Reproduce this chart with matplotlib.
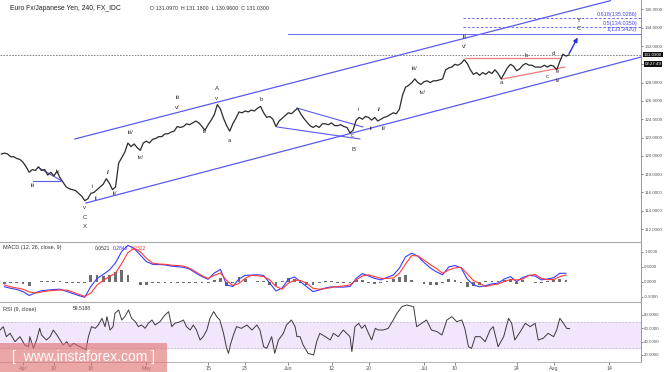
import matplotlib.pyplot as plt
import numpy as np
from matplotlib.patches import Rectangle

W, H = 665, 372
plt.rcParams['font.family'] = ['Liberation Sans', 'DejaVu Sans']

# 收盘价, 每半个交易日一个点, 交易日序号 0 = 4月3日
price_start_day = -3.5
price_step = 0.5
price_close = [
    120.2, 120.3, 120.2, 119.9, 119.9, 119.7, 119.6, 119.3, 118.8, 118.2,
    118.5, 118.4, 118.8, 118.4, 118.5, 117.9, 118.2, 117.8, 118.3, 117.6,
    117.1, 116.6, 116.4, 116.3, 116.2, 115.9, 115.6, 115.1, 115.3, 115.9,
    116.0, 116.3, 116.6, 116.9, 117.5, 117.0, 116.3, 116.6, 119.2, 119.8,
    120.4, 121.4, 121.0, 121.3, 120.9, 120.6, 121.4, 121.6, 121.4, 121.8,
    121.9, 122.1, 122.1, 122.4, 122.4, 122.6, 122.7, 123.2, 123.1, 123.2,
    123.5, 123.4, 123.6, 123.8, 123.6, 123.2, 122.8, 123.4, 123.9, 124.5,
    125.6, 125.1, 124.1, 123.3, 122.7, 123.5, 124.1, 124.8, 124.7, 124.9,
    124.8, 125.0, 124.9, 125.2, 125.4, 124.7, 124.2, 124.3, 124.0, 123.2,
    123.8, 124.1, 124.4, 124.7, 124.6, 124.9, 125.2, 124.6, 124.1, 123.7,
    123.3, 123.1, 123.3, 123.1, 123.5, 123.5, 123.4, 123.6, 123.3, 123.3,
    123.4, 123.2, 123.1, 122.5, 122.8, 123.9, 124.2, 124.0, 124.3, 124.2,
    123.9, 124.2, 123.8, 124.0, 124.2, 124.3, 124.5, 124.7, 124.6, 125.1,
    126.6, 127.5, 127.7, 128.0, 128.4, 128.0, 127.8, 128.1, 128.2, 128.0,
    128.2, 128.2, 128.3, 128.4, 129.4, 129.6, 129.7, 130.0, 129.9, 130.1,
    130.5, 130.1, 129.4, 128.9, 129.1, 128.8, 129.1, 128.9, 129.2, 129.0,
    129.4, 129.0, 128.4, 129.0, 129.6, 130.0, 129.8, 129.3, 129.5, 129.9,
    130.1, 129.9, 129.9, 129.7, 129.7, 129.7, 129.9, 129.7, 129.9, 129.8,
    129.4, 130.3, 131.1, 130.9, 131.03,
]
last_price = 131.03

# MACD (12, 26, 9), 每个交易日一个点
macd_start_day = -3
macd_line = [
    -0.16, -0.21, -0.25, -0.32, -0.45, -0.36, -0.29, -0.27, -0.25, -0.24,
    -0.31, -0.38, -0.45, -0.51, -0.15, 0.12, 0.25, 0.40, 0.64, 1.02,
    1.22, 1.12, 0.90, 0.68, 0.59, 0.58, 0.57, 0.53, 0.51, 0.49,
    0.43, 0.30, 0.18, 0.09, 0.30, 0.42, -0.10, -0.15, 0.10, 0.22,
    0.23, 0.24, 0.22, -0.04, -0.30, -0.20, 0.09, 0.17, 0.00, -0.16,
    -0.32, -0.27, -0.20, -0.16, -0.17, -0.17, -0.15, 0.12, 0.28, 0.20,
    0.12, 0.07, 0.15, 0.23, 0.46, 0.84, 0.96, 0.86, 0.65, 0.47,
    0.34, 0.24, 0.50, 0.55, 0.47, 0.10, -0.10, -0.16, -0.12, -0.06,
    -0.04, 0.10, 0.18, 0.01, 0.15, 0.22, 0.20, 0.07, 0.10, 0.14,
    0.29, 0.29,
]
signal_line = [
    -0.10, -0.16, -0.20, -0.24, -0.33, -0.37, -0.33, -0.30, -0.28, -0.27,
    -0.27, -0.33, -0.41, -0.48, -0.37, -0.10, 0.05, 0.18, 0.30, 0.62,
    0.98, 1.12, 1.01, 0.79, 0.63, 0.60, 0.59, 0.56, 0.55, 0.53,
    0.46, 0.34, 0.21, 0.12, 0.22, 0.30, 0.05, -0.12, -0.05, 0.12,
    0.22, 0.21, 0.18, 0.07, -0.15, -0.24, -0.04, 0.06, 0.05, -0.05,
    -0.21, -0.24, -0.22, -0.18, -0.15, -0.13, -0.10, 0.07, 0.20, 0.24,
    0.18, 0.12, 0.12, 0.13, 0.29, 0.60, 0.88, 0.87, 0.73, 0.58,
    0.45, 0.29, 0.40, 0.47, 0.49, 0.27, 0.05, -0.05, -0.15, -0.10,
    -0.07, 0.02, 0.08, 0.07, 0.10, 0.22, 0.25, 0.12, 0.08, 0.08,
    0.18, 0.23,
]

# RSI (9)
rsi_days = [
    -3.7, -3.2, -2.7, -2.1, -1.3, -0.5, 0.3, 0.9, 1.1, 1.7,
    2.2, 2.7, 3.0, 3.8, 4.4, 4.9, 5.5, 6.0, 6.5, 7.1,
    7.6, 8.2, 8.7, 9.2, 9.8, 10.2, 10.6, 11.1, 11.7, 12.2,
    12.8, 13.3, 13.6, 14.1, 14.6, 14.9, 15.5, 16.0, 16.5, 17.1,
    17.6, 18.2, 18.7, 19.2, 19.8, 20.3, 20.9, 21.4, 22.2, 23.0,
    23.6, 24.1, 24.6, 25.5, 26.0, 26.5, 27.1, 27.6, 28.1, 28.7,
    29.2, 29.8, 30.3, 30.9, 31.4, 31.9, 32.5, 33.0, 33.3, 33.6,
    34.1, 34.6, 35.4, 36.3, 37.1, 37.9, 38.4, 39.0, 39.5, 40.3,
    40.8, 41.4, 42.2, 42.7, 43.5, 44.1, 44.4, 44.9, 45.4, 46.2,
    47.1, 47.6, 48.1, 49.0, 49.8, 50.3, 51.1, 51.9, 53.0, 53.3,
    53.8, 54.4, 54.9, 55.4, 56.0, 56.5, 57.1, 57.6, 58.4, 59.2,
    60.0, 60.6, 61.4, 62.2, 63.3, 63.8, 64.6, 65.4, 66.2, 67.1,
    67.9, 68.7, 69.5, 70.3, 71.1, 71.6, 72.2, 72.7, 73.3, 74.1,
    74.9, 75.7, 76.2, 77.0, 77.9, 78.7, 79.2, 79.7, 80.6, 81.4,
    82.2, 83.0, 83.5, 84.3, 85.1, 86.0, 86.5, 87.0, 87.6, 88.1,
    88.6,
]
rsi_values = [
    57.5, 62.5, 47.5, 52.5, 40.0, 47.5, 35.0, 32.5, 47.5, 30.0,
    42.5, 60.0, 50.0, 42.5, 47.5, 57.5, 50.0, 42.5, 35.0, 40.0,
    32.5, 37.5, 35.0, 32.5, 30.0, 27.5, 47.5, 62.5, 60.0, 65.0,
    75.0, 62.5, 77.5, 57.5, 62.5, 82.5, 87.5, 72.5, 77.5, 87.5,
    75.0, 70.0, 62.5, 65.0, 60.0, 67.5, 72.5, 65.0, 70.0, 80.0,
    85.0, 62.5, 67.5, 70.0, 72.5, 62.5, 57.5, 65.0, 57.5, 42.5,
    47.5, 57.5, 75.0, 85.0, 77.5, 72.5, 52.5, 30.0, 22.5, 35.0,
    50.0, 62.5, 60.0, 65.0, 57.5, 65.0, 57.5, 32.5, 30.0, 47.5,
    22.5, 42.5, 52.5, 65.0, 72.5, 62.5, 47.5, 47.5, 35.0, 22.5,
    20.0, 40.0, 52.5, 47.5, 42.5, 52.5, 47.5, 57.5, 47.5, 25.0,
    62.5, 67.5, 60.0, 65.0, 52.5, 42.5, 60.0, 57.5, 57.5, 60.0,
    72.5, 82.5, 92.5, 95.0, 92.5, 62.5, 67.5, 72.5, 57.5, 55.0,
    50.0, 72.5, 77.5, 70.0, 72.5, 60.0, 32.5, 30.0, 47.5, 47.5,
    40.0, 57.5, 62.5, 32.5, 47.5, 75.0, 67.5, 42.5, 55.0, 67.5,
    62.5, 67.5, 42.5, 45.0, 52.5, 47.5, 57.5, 75.0, 67.5, 60.0,
    59.5,
]

date_ticks = [0, 5, 11, 20, 30, 36, 43, 50, 56, 65, 70, 80, 86, 95]
date_labels = ['Apr', '10', '18', 'May', '15', '23', 'Jun', '12', '20',
               'Jul', '10', '24', 'Aug', '14']

# 波浪标注 (文字, 交易日, 价格)
wave_labels = [
    ('iii', 1.5, 116.8), ('iv', 5.7, 118.3), ('v', 10.0, 114.3),
    ('C', 10.0, 113.3), ('X', 10.0, 112.3), ('i', 11.2, 116.6),
    ('ii', 11.8, 115.3), ('i/', 13.8, 118.2), ('ii/', 14.9, 115.9),
    ('iii/', 17.5, 122.5), ('iv/', 19.0, 119.8), ('iii', 25.0, 126.4),
    ('v/', 25.0, 125.3), ('iv', 29.5, 122.7), ('A', 31.4, 127.4),
    ('v', 31.4, 126.3), ('a', 33.4, 121.7), ('b', 38.6, 126.2),
    ('c', 53.3, 122.2), ('B', 53.5, 120.7), ('i', 54.3, 125.1),
    ('i/', 57.7, 125.1), ('ii', 56.4, 123.0), ('ii/', 58.4, 123.0),
    ('iii/', 63.5, 129.5), ('iv/', 64.7, 126.9), ('iii', 71.6, 133.0),
    ('v/', 71.6, 131.9), ('a', 77.5, 128.0), ('b', 81.5, 131.0),
    ('c', 84.9, 128.7), ('d', 85.9, 131.2), ('e', 86.6, 129.2),
    ('iv', 86.6, 128.2), ('Y', 90.1, 134.8), ('C', 90.1, 133.9),
]

# 趋势线端点 (交易日, 价格)
channel_upper = [(8.4, 121.84), (95.2, 136.96)]
channel_lower = [(10.2, 114.84), (100.2, 130.80)]
tri_april = [[(2.6, 118.67), (6.3, 117.25)], [(1.6, 117.25), (6.0, 117.25)]]
wedge_june = [[(44.4, 125.22), (55.1, 123.15)], [(41.2, 123.15), (54.6, 121.84)]]
tri_july = [[(71.6, 130.69), (87.0, 130.69)], [(77.6, 128.39), (87.8, 129.70)]]
fib_levels = [('1(133.3420)', 133.342, 42.9, '-'),
              ('0.5(134.0350)', 134.035, 71.3, '--'),
              ('0.618(135.0286)', 135.0286, 71.3, '--')]
arrow_from = (88.3, 130.9)
arrow_to = (90.1, 133.2)


def rect(x0, y0, x1, y1):
    return [x0 / W, 1 - y1 / H, (x1 - x0) / W, (y1 - y0) / H]


def ftext(x, y, s, **kw):
    fig.text(x / W, 1 - y / H, s, **kw)


fig = plt.figure(figsize=(W / 100, H / 100), dpi=100)
ax = fig.add_axes(rect(0, 0, 641, 242))
ax_m = fig.add_axes(rect(0, 242, 641, 302), sharex=ax)
ax_r = fig.add_axes(rect(0, 302, 641, 362), sharex=ax)

x_min, x_max = -3.73, 100.16
grey = '#555555'
chan = '#5a5af0'

for a in (ax, ax_m, ax_r):
    a.set_xlim(x_min, x_max)
    a.yaxis.tick_right()
    a.tick_params(axis='y', labelsize=3.2, colors=grey, length=1.5, width=0.5, pad=0.8)
    a.tick_params(axis='x', length=0)
    for s in ('left', 'bottom'):
        a.spines[s].set_visible(False)
    a.spines['top'].set_color('#aaaaaa')
    a.spines['top'].set_linewidth(0.8)
    a.spines['right'].set_color('#888888')
    a.spines['right'].set_linewidth(0.6)
ax.spines['top'].set_visible(False)
plt.setp(ax.get_xticklabels(), visible=False)
plt.setp(ax_m.get_xticklabels(), visible=False)

# 主图
ax.set_ylim(110.58, 137.03)
ax.set_yticks(np.arange(112, 137, 2))
ax.set_yticklabels([f'{v:.4f}' for v in np.arange(112, 137, 2)])

price_days = price_start_day + price_step * np.arange(len(price_close))
ax.plot(price_days, price_close, color='#2b2b2b', lw=0.9, zorder=3)
ax.axhline(last_price, color='#777777', lw=0.6, ls=(0, (2, 1.5)), zorder=1)

for line in (channel_upper, channel_lower):
    (x0, y0), (x1, y1) = line
    ax.plot([x0, x1], [y0, y1], color=chan, lw=0.9, zorder=2)
for seg in tri_april + wedge_june:
    (x0, y0), (x1, y1) = seg
    ax.plot([x0, x1], [y0, y1], color=chan, lw=0.8, zorder=2)
for seg in tri_july:
    (x0, y0), (x1, y1) = seg
    ax.plot([x0, x1], [y0, y1], color='#f07a7a', lw=0.9, zorder=2)
for name, lvl, start, ls in fib_levels:
    ax.plot([start, x_max], [lvl, lvl], color='#6a6af5', lw=0.7,
            ls=ls if ls == '-' else (0, (2.5, 2)), zorder=2)
    ax.text(x_max - 0.6, lvl + 0.15, name, ha='right', va='bottom',
            fontsize=4.0, color='#4a4ae8')
ax.annotate('', xy=arrow_to, xytext=arrow_from,
            arrowprops=dict(arrowstyle='-|>', color='#2a2ae8', lw=1.0,
                            mutation_scale=6))
for s, d, p in wave_labels:
    ax.text(d, p, s, ha='center', va='center', fontsize=4.3, color='#333333')

# MACD
ax_m.set_ylim(-0.667, 1.333)
ax_m.set_yticks([1.0, 0.5, 0.0, -0.5])
ax_m.set_yticklabels(['1.0000', '0.5000', '0.0000', '-0.5000'])
macd_days = macd_start_day + np.arange(len(macd_line))
hist = np.array(macd_line) - np.array(signal_line)
ax_m.bar(macd_days, hist, width=0.45, color='#6e6e6e', zorder=1)
ax_m.plot(macd_days, signal_line, color='#ff3b3b', lw=0.8, zorder=3)
ax_m.plot(macd_days, macd_line, color='#3b3bff', lw=0.8, zorder=2)

# RSI
ax_r.set_ylim(9.5, 99.5)
ax_r.set_yticks([80, 60, 40, 20])
ax_r.set_yticklabels(['80.0000', '60.0000', '40.0000', '20.0000'])
ax_r.axhspan(30, 70, color='#f2e6fc', zorder=0)
for lvl in (30, 70):
    ax_r.axhline(lvl, color='#bbbbbb', lw=0.5, ls=(0, (3, 2)), zorder=1)
ax_r.plot(rsi_days, rsi_values, color='#3a3a3a', lw=0.7, zorder=3)
ax_r.set_xticks(date_ticks)
ax_r.set_xticklabels(date_labels)
ax_r.tick_params(axis='x', labelsize=3.8, colors=grey, length=2, width=0.5, pad=1)
ax_r.spines['bottom'].set_visible(True)
ax_r.spines['bottom'].set_color('#aaaaaa')
ax_r.spines['bottom'].set_linewidth(0.6)

# 文字
ftext(10, 9, 'Euro Fx/Japanese Yen, 240, FX_IDC', fontsize=4.9, color='#222222', va='center')
ftext(150, 9, 'O 131.0970  H 131.1800  L 130.9600  C 131.0300', fontsize=3.8,
      color='#333333', va='center')
ftext(3, 248, 'MACD (12, 26, close, 9)', fontsize=4.0, color='#333333', va='center')
ftext(95, 248, '0.0521', fontsize=3.6, color='#333333', va='center')
ftext(113, 248, '0.2843', fontsize=3.6, color='#3b3bff', va='center')
ftext(131, 248, '0.2322', fontsize=3.6, color='#ff3b3b', va='center')
ftext(3, 309, 'RSI (9, close)', fontsize=4.0, color='#333333', va='center')
ftext(73, 309, '59.5188', fontsize=3.6, color='#333333', va='center')
ftext(653, 54.5, '131.0300', fontsize=3.2, color='white', ha='center', va='center',
      bbox=dict(boxstyle='square,pad=0.2', fc='#111111', ec='none'))
ftext(653, 64, '02:27:49', fontsize=3.2, color='white', ha='center', va='center',
      bbox=dict(boxstyle='square,pad=0.2', fc='#111111', ec='none'))

# 水印
fig.patches.append(Rectangle((0, 0), 167 / W, 29 / H, transform=fig.transFigure,
                             fc='#e07070', ec='none', alpha=0.62, zorder=10))
ftext(84, 357, '[  www.instaforex.com ]', fontsize=10, color='white',
      ha='center', va='center', zorder=11)

fig.savefig('out.png', dpi=100)
